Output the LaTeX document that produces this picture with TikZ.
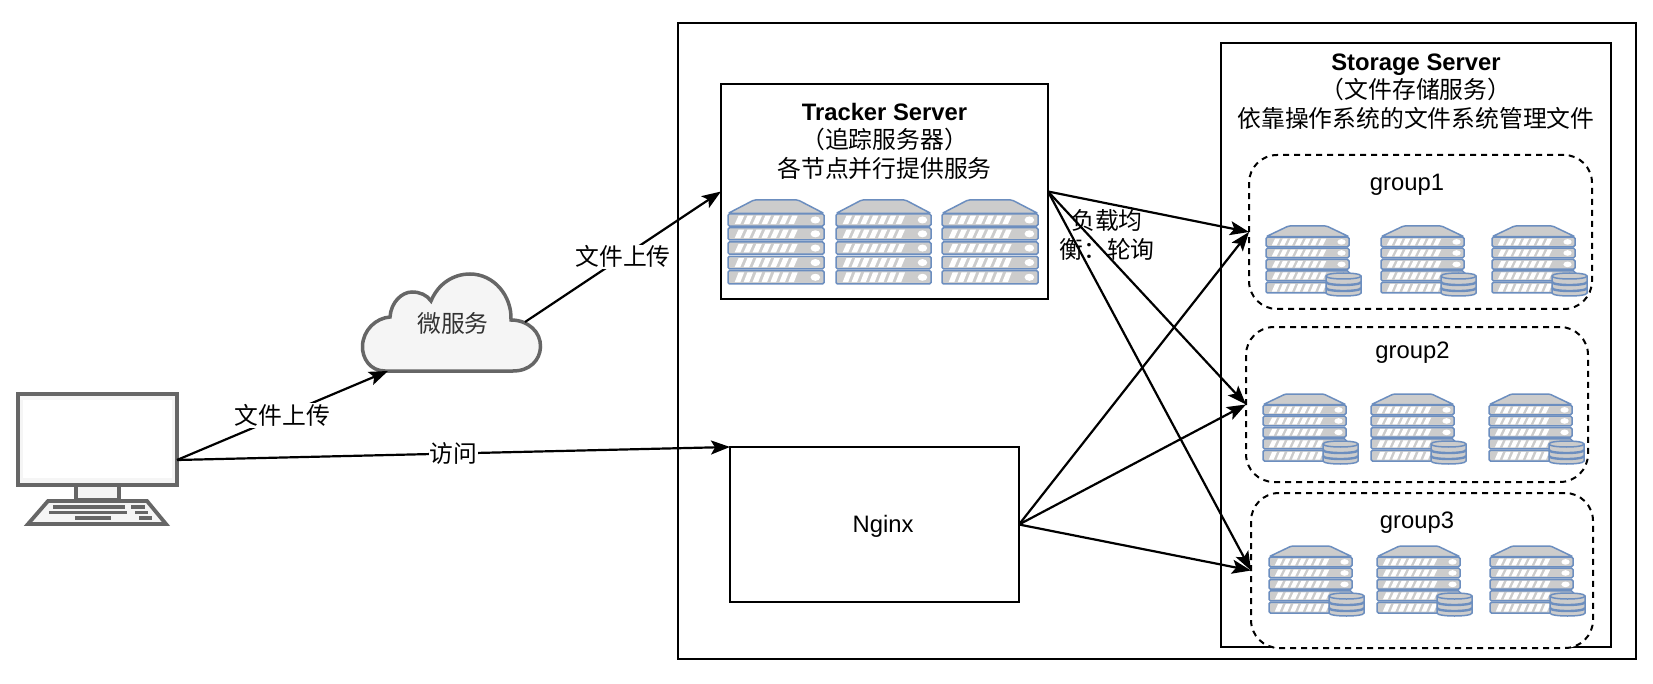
\documentclass[tikz,border=0pt]{standalone}
\usepackage{fontspec}
\setmainfont{Liberation Sans}
\newfontfamily\cjk{Noto Sans CJK SC}
\usetikzlibrary{arrows.meta}
\definecolor{rackfill}{HTML}{CCCCCC}
\definecolor{rackline}{HTML}{6C8EBF}
\definecolor{pcline}{HTML}{666666}
\definecolor{pcfill}{HTML}{F5F5F5}
\definecolor{cloudtext}{HTML}{333333}
\tikzset{
  panel/.style={draw=black,line width=2.2pt,fill=white,anchor=north west,inner sep=0pt,outer sep=0pt},
  groupbox/.style={panel,line width=2pt,dashed,dash pattern=on 6pt off 5pt,rounded corners=28pt},
  caption/.style={align=center,inner sep=0pt,font=\fontsize{23.8pt}{28.5pt}\selectfont},
  link/.style={draw=black,line width=2.2pt,-{Stealth[length=19pt,width=14pt,inset=4pt]}},
  edgetext/.style={caption,fill=white,inner sep=1pt},
  unit/.style={draw=rackline,fill=rackfill,line width=1.5pt,rounded corners=1.5pt},
  pcpart/.style={draw=pcline,fill=pcfill,line width=3.8pt,line join=miter},
  pckey/.style={draw=pcline,line width=3.5pt}
}
% Rack of five server units under a sloped lid: origin x, y, width, height
\newcommand{\rackunit}[4]{%
  \begin{scope}[shift={(#1,#2)},xscale=#3/100,yscale=#4/100]
    \draw[unit] (0,16) -- (27,0) -- (73,0) -- (100,16) -- cycle;
    \foreach \top/\bot in {16.5/31,33/47.5,50/64.5,67/82,84/100}{
      \draw[unit] (0,\top) rectangle (100,\bot);
      \foreach \n in {0,...,6}{
        \fill[white] ({7+9.3*\n},\bot-2.2) -- ({12.8+9.3*\n},\bot-2.2)
          -- ({16.8+9.3*\n},\top+2.2) -- ({11+9.3*\n},\top+2.2) -- cycle;
      }
      \fill[white] (91,{(\top+\bot)/2}) ellipse [x radius=5,y radius=4.2];
    }
  \end{scope}}
% Stack of three disks, 35 wide and 23 high
\newcommand{\diskstack}[2]{%
  \begin{scope}[shift={(#1,#2)}]
    \draw[draw=rackline,fill=rackfill,line width=1.5pt]
      (0,3) .. controls (0,-1) and (35,-1) .. (35,3) -- (35,20)
      .. controls (35,24) and (0,24) .. (0,20) -- cycle;
    \draw[rackline,line width=1.5pt] (0,3) .. controls (0,7) and (35,7) .. (35,3);
    \draw[rackline,line width=2.4pt] (0,9) .. controls (0,13) and (35,13) .. (35,9);
    \draw[rackline,line width=2.4pt] (0,15) .. controls (0,19) and (35,19) .. (35,15);
  \end{scope}}
% Rack with its disk stack at the lower right
\newcommand{\storagerack}[2]{%
  \rackunit{#1}{#2}{83}{67}
  \diskstack{\numexpr#1+60\relax}{\numexpr#2+47\relax}}
\begin{document}
\begin{tikzpicture}[x=1pt,y=-1pt]
  \useasboundingbox (0,0) rectangle (1653,684);
  \fill[white] (0,0) rectangle (1653,684);

  % Server area and its boxes
  \node[panel,minimum width=958pt,minimum height=636pt] (area) at (678,23) {};
  \node[panel,minimum width=327pt,minimum height=215pt] (tracker) at (721,84) {};
  \node[panel,minimum width=289pt,minimum height=155pt] (nginx) at (730,447) {};
  \node[panel,minimum width=390pt,minimum height=604pt] (storage) at (1221,43) {};
  \node[groupbox,minimum width=343pt,minimum height=154pt] (group1) at (1249,155) {};
  \node[groupbox,minimum width=342pt,minimum height=155pt] (group2) at (1246,327) {};
  \node[groupbox,minimum width=342pt,minimum height=155pt] (group3) at (1251,493) {};

  % Box captions
  \node[caption] (trackertext) at (884.5,141)
    {\textbf{Tracker Server}\\{\cjk （追踪服务器）}\\{\cjk 各节点并行提供服务}};
  \node[caption] (storagetext) at (1416,91.5)
    {\textbf{Storage Server}\\{\cjk （文件存储服务）}\\{\cjk 依靠操作系统的文件系统管理文件}};
  \node[caption] (nginxtext) at (883,526) {Nginx};
  \node[caption] (g1text) at (1407,185) {group1};
  \node[caption] (g2text) at (1412.5,353) {group2};
  \node[caption] (g3text) at (1417,523) {group3};

  % Tracker racks
  \rackunit{728}{200}{96}{84}
  \rackunit{836}{200}{95}{84}
  \rackunit{942}{200}{96}{84}

  % Storage racks per group
  \storagerack{1266}{226}
  \storagerack{1381}{226}
  \storagerack{1492}{226}
  \storagerack{1263}{394}
  \storagerack{1371}{394}
  \storagerack{1489}{394}
  \storagerack{1269}{546}
  \storagerack{1377}{546}
  \storagerack{1490}{546}

  % Desktop computer
  \draw[pcpart] (76,485) rectangle (119,500);
  \draw[pcpart] (18,394) rectangle (177,485);
  \fill[white] (23,400) rectangle (172,478);
  \draw[pcpart] (48,501) -- (147,501) -- (166,524) -- (28,524) -- cycle;
  \draw[pckey] (53,507) -- (125,507) (131,507) -- (145,507);
  \draw[pckey] (49,512.5) -- (127,512.5) (135,512.5) -- (148,512.5);
  \draw[pckey] (75,518) -- (111,518) (139,518) -- (152,518);
  \coordinate (pcport) at (177,460);

  % Cloud
  \draw[draw=pcline,fill=pcfill,line width=3.5pt]
    (385,371) .. controls (370,371) and (362,358) .. (362.5,346)
    .. controls (363,330) and (376,318) .. (390,317)
    .. controls (391,302) and (402,292) .. (412,292)
    .. controls (420,292) and (427,295) .. (431,301)
    .. controls (438,284) and (453,274) .. (470,274)
    .. controls (494,274) and (512,296) .. (511,320)
    .. controls (528,320) and (541,332) .. (540.5,347)
    .. controls (540,360) and (530,371) .. (513,371) -- cycle;
  \node[caption,text=cloudtext] (cloudtext) at (453,323) {\cjk 微服务};
  \coordinate (cloudin) at (388,371);
  \coordinate (cloudout) at (525,322);

  % Connectors
  \draw[link] (pcport) -- node[edgetext] (uplabela) {\cjk 文件上传} (cloudin);
  \draw[link] (cloudout) -- node[edgetext] (uplabelb) {\cjk 文件上传} (tracker.west);
  \draw[link] (pcport) -- node[edgetext] (visitlabel) {\cjk 访问} (nginx.north west);
  \draw[link] (tracker.east) -- (group1.west);
  \draw[link] (tracker.east) -- (group2.west);
  \draw[link] (tracker.east) -- (group3.west);
  \draw[link] (nginx.east) -- (group1.west);
  \draw[link] (nginx.east) -- (group2.west);
  \draw[link] (nginx.east) -- (group3.west);
  \node[caption] (balancetext) at (1107,235) {\cjk 负载均\\\cjk 衡：轮询};
\end{tikzpicture}
\end{document}
